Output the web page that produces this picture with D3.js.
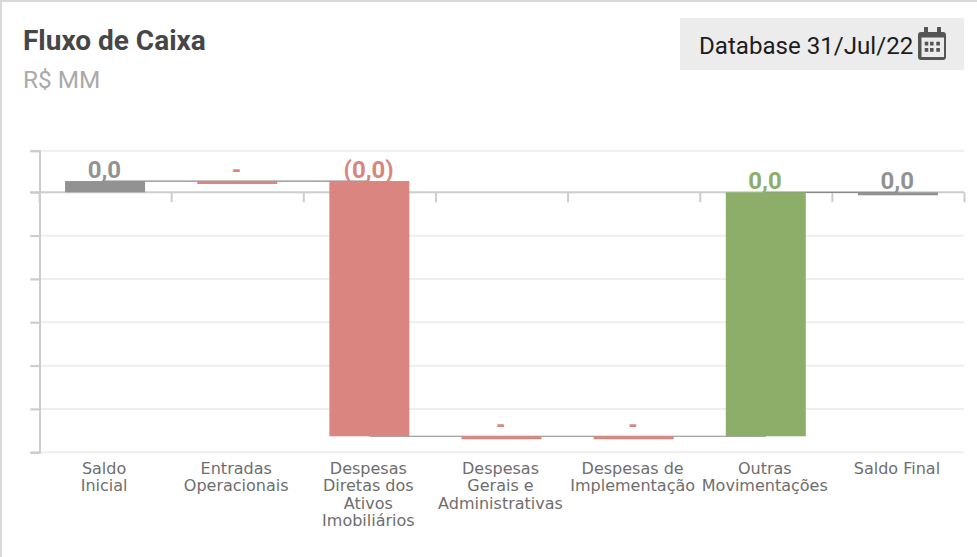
<!DOCTYPE html>
<meta charset="utf-8">
<style>
html,body { margin:0; padding:0; background:#fff; overflow:hidden; }
svg { display:block; }
</style>
<body>
<svg></svg>
</body>
<script src="https://d3js.org/d3.v7.min.js"></script>
<script>

var categories = [["Saldo","Inicial"],["Entradas","Operacionais"],["Despesas","Diretas dos","Ativos","Imobiliários"],["Despesas","Gerais e","Administrativas"],["Despesas de","Implementação"],["Outras","Movimentações"],["Saldo Final"]];
// waterfall steps, R$ MM (all round to 0,0 on the labels)
var deltas = [0.0026, 0, -0.0589, 0, 0, 0.0563, 0];
var kinds = ["total","down","down","down","down","up","total"];
var labels = ["0,0","-","(0,0)","-","-","0,0","0,0"];
var tickValues = [0.0096, 0, -0.01, -0.02, -0.03, -0.04, -0.05, -0.06];

var colors = {total:"#929292", down:"#da8580", up:"#8cae68"};

var svg = d3.select("svg").attr("width",977).attr("height",557);

// card border
svg.append("rect").attr("x",0).attr("y",0).attr("width",977).attr("height",2).attr("fill","#d9d9d9");
svg.append("rect").attr("x",0).attr("y",0).attr("width",2).attr("height",557).attr("fill","#d9d9d9");

svg.append("text").attr("x",23).attr("y",50)
  .attr("font-family","Roboto").attr("font-weight",700).attr("font-size",28).attr("fill","#464646")
  .text("Fluxo de Caixa");
svg.append("text").attr("x",23).attr("y",88)
  .attr("font-family","Roboto").attr("font-size",24.4).attr("fill","#aaaaaa")
  .text("R$ MM");

// date box
svg.append("rect").attr("x",680).attr("y",18).attr("width",284).attr("height",52).attr("fill","#ececec");
svg.append("text").attr("x",699).attr("y",54)
  .attr("font-family","Roboto").attr("font-size",24.1).attr("fill","#1c1c1c")
  .text("Database 31/Jul/22");

// calendar icon
var cal = svg.append("g").attr("transform","translate(918,27)");
cal.append("rect").attr("x",0).attr("y",5).attr("width",28).attr("height",28).attr("rx",3).attr("fill","#555");
cal.append("rect").attr("x",3.5).attr("y",10.5).attr("width",22.5).attr("height",19.5).attr("fill","#ececec");
cal.selectAll(".peg").data([6,19]).enter().append("rect").attr("class","peg")
  .attr("x",function(d){ return d; }).attr("y",0).attr("width",4).attr("height",7).attr("fill","#555");
[6.7,12,18.3].forEach(function(px){
  [14.7,21].forEach(function(py){
    cal.append("rect").attr("x",px).attr("y",py).attr("width",3.6).attr("height",3.8).attr("fill","#555");
  });
});

// scales
var x = d3.scaleBand().domain(d3.range(categories.length)).range([39,964]);
var y = d3.scaleLinear().domain([tickValues[0],tickValues[tickValues.length-1]]).range([150.7,452.3]);
var barW = 80;
var minH = 3;

// gridlines
svg.append("g").selectAll("line").data(tickValues.filter(function(d){ return d!=0; })).enter().append("line")
  .attr("x1",30).attr("x2",964)
  .attr("y1",function(d){ return y(d); }).attr("y2",function(d){ return y(d); })
  .attr("stroke","#eeeeee").attr("stroke-width",2);

// y axis
var yAxis = svg.append("g").attr("transform","translate(39.5,0)")
  .call(d3.axisLeft(y).tickValues(tickValues).tickSize(9).tickFormat(""));
yAxis.selectAll("path").attr("stroke","#cccccc").attr("stroke-width",2);
yAxis.selectAll("line").attr("stroke","#cccccc").attr("stroke-width",2);

// x axis on zero
svg.append("line").attr("x1",30).attr("x2",964).attr("y1",y(0)).attr("y2",y(0))
  .attr("stroke","#cccccc").attr("stroke-width",2);
svg.append("g").selectAll("line").data(d3.range(categories.length+1)).enter().append("line")
  .attr("x1",function(d){ return 39.5 + d*x.step(); }).attr("x2",function(d){ return 39.5 + d*x.step(); })
  .attr("y1",y(0)).attr("y2",y(0)+10)
  .attr("stroke","#cccccc").attr("stroke-width",2);

// waterfall
var run = 0;
var bars = deltas.map(function(d,i){
  var start = kinds[i]=="total" ? 0 : run;
  var end = kinds[i]=="total" ? (i==0 ? d : run) : run + d;
  run = end;
  return {i:i, start:start, end:end, level:end};
});

// connectors run centre to centre, under the bars
svg.append("g").selectAll("line").data(bars.slice(0,-1)).enter().append("line")
  .attr("x1",function(d){ return x(d.i)+x.bandwidth()/2; })
  .attr("x2",function(d){ return x(d.i+1)+x.bandwidth()/2; })
  .attr("y1",function(d){ return y(d.level); })
  .attr("y2",function(d){ return y(d.level); })
  .attr("stroke","#8a8a8a").attr("stroke-width",1.2);

svg.append("g").selectAll("rect").data(bars).enter().append("rect")
  .attr("x",function(d){ return x(d.i)+x.bandwidth()/2-barW/2; })
  .attr("width",barW)
  .attr("y",function(d){ return y(Math.max(d.start,d.end)); })
  .attr("height",function(d){ return Math.max(Math.abs(y(d.start)-y(d.end)),minH); })
  .attr("fill",function(d){ return colors[kinds[d.i]]; });

// value labels above each bar
svg.append("g").selectAll("text").data(bars).enter().append("text")
  .attr("x",function(d){ return x(d.i)+x.bandwidth()/2-0.7; })
  .attr("y",function(d){ return y(Math.max(d.start,d.end))-3; })
  .attr("text-anchor","middle")
  .attr("font-family","Roboto").attr("font-weight",700).attr("font-size",24)
  .attr("fill",function(d){ return colors[kinds[d.i]]; })
  .text(function(d){ return labels[d.i]; });

// category labels
var cats = svg.append("g").selectAll("text").data(categories).enter().append("text")
  .attr("text-anchor","middle")
  .attr("font-family","DejaVu Sans").attr("font-size",16).attr("fill","#6e6e6e");
cats.each(function(lines,i){
  d3.select(this).selectAll("tspan").data(lines).enter().append("tspan")
    .attr("x",x(i)+x.bandwidth()/2-1)
    .attr("y",function(d,j){ return 474 + j*17.4; })
    .text(function(d){ return d; });
});

</script>
